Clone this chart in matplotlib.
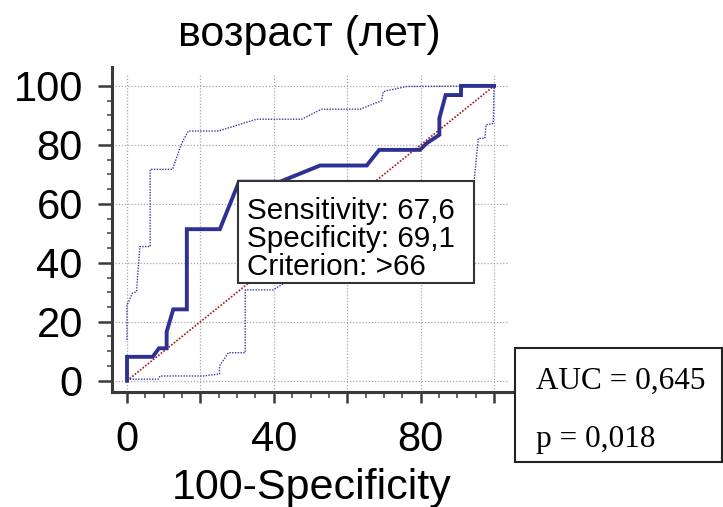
import matplotlib
matplotlib.use("Agg")
import matplotlib.pyplot as plt
from matplotlib.ticker import MultipleLocator, FixedLocator, FixedFormatter
from matplotlib.patches import Rectangle

# ---- data ----
roc_x = [0, 0, 7.0, 8.7, 10.8, 10.8, 12.6, 16.3, 16.3, 25.3, 30.5, 41.7, 52.6,
         65.3, 68.7, 79.8, 81.7, 85.1, 85.1, 86.8, 91.0, 91.0, 100]
roc_y = [0, 8.1, 8.1, 11.0, 11.0, 16.6, 24.2, 24.2, 51.4, 51.4, 67.5, 67.5, 73.0,
         73.0, 78.3, 78.3, 80.6, 83.4, 89.0, 96.9, 96.9, 100, 100]

upper_x = [0, 0, 1.5, 2.6, 3.5, 6.3, 6.3, 12.4, 14.9, 16.7, 24.9, 35.3, 47.6,
           53.0, 63.5, 69.4, 69.8, 76.2, 100]
upper_y = [13.8, 25.7, 29.7, 30.2, 45.5, 45.5, 71.7, 71.7, 80.6, 84.7, 84.7, 88.7,
           88.7, 92.1, 92.1, 95.0, 98.1, 99.8, 100]

lower_x = [0, 8.5, 9.0, 20.8, 25.2, 25.2, 27.6, 32.2, 32.2, 39.8, 43.5, 60, 80,
           94.0, 94.6, 95.7, 97.5, 97.8, 99.8, 100]
lower_y = [0.5, 0.5, 1.6, 1.6, 2.3, 5.0, 9.5, 9.5, 30.8, 30.8, 33.6, 45, 58,
           66, 68.1, 82.2, 82.2, 86.8, 87.3, 100]

diag_x = [0, 100]
diag_y = [0, 100]

x_ticks = [0, 20, 40, 60, 80, 100]
x_tick_labels = ["0", "", "40", "", "80", ""]
y_ticks = [0, 20, 40, 60, 80, 100]
y_tick_labels = ["0", "20", "40", "60", "80", "100"]

title = "возраст (лет)"
xlabel = "100-Specificity"
box_lines = ["Sensitivity: 67,6", "Specificity: 69,1", "Criterion: >66"]
auc_text = "AUC = 0,645"
p_text = "p = 0,018"

# ---- figure ----
W, H = 723, 507
fig = plt.figure(figsize=(W / 100, H / 100), dpi=100)
plt.rcParams["font.family"] = ["Liberation Sans", "DejaVu Sans"]

L, R, T, B = 112, 508, 75, 392
ax = fig.add_axes([L / W, 1 - B / H, (R - L) / W, (B - T) / H])
ax.set_xlim(-4.09, 103.8)
ax.set_ylim(-3.83, 103.7)

for s in ["top", "right"]:
    ax.spines[s].set_visible(False)
for s in ["left", "bottom"]:
    ax.spines[s].set_linewidth(2.2)
    ax.spines[s].set_color("#3a3a3a")
ax.spines["left"].set_bounds(-3.83, 106.4)
ax.spines["bottom"].set_bounds(-4.09, 105.9)

ax.xaxis.set_major_locator(FixedLocator(x_ticks))
ax.xaxis.set_major_formatter(FixedFormatter(x_tick_labels))
ax.yaxis.set_major_locator(FixedLocator(y_ticks))
ax.yaxis.set_major_formatter(FixedFormatter(y_tick_labels))
ax.xaxis.set_minor_locator(MultipleLocator(5))
ax.yaxis.set_minor_locator(MultipleLocator(5))

ax.tick_params(axis="x", which="major", length=8, width=1.8, color="#3a3a3a",
               labelsize=30, pad=12)
ax.tick_params(axis="x", which="minor", length=4.3, width=1.1, color="#3a3a3a")
ax.tick_params(axis="y", which="major", length=10, width=1.8, color="#3a3a3a",
               labelsize=30, pad=11)
ax.tick_params(axis="y", which="minor", length=3.6, width=1.1, color="#3a3a3a")

ax.grid(True, which="major", color="#a8a8a8", linestyle=(0, (1, 1.5)), linewidth=0.9)
ax.set_axisbelow(True)

ax.plot(diag_x, diag_y, color="#a01818", linestyle=(0, (1, 1)), linewidth=1.2, zorder=3)
ax.plot(upper_x, upper_y, color="#3a3aa8", linestyle=(0, (1, 1)), linewidth=1.0, zorder=3)
ax.plot(lower_x, lower_y, color="#3a3aa8", linestyle=(0, (1, 1)), linewidth=1.0, zorder=3)
ax.plot(roc_x, roc_y, color="#2e3192", linewidth=2.8, zorder=4, solid_joinstyle="miter")

# info box (figure pixel coordinates)
bx0, by0, bx1, by1 = 238, 181, 474, 283
fig.add_artist(Rectangle((bx0 / W, 1 - by1 / H), (bx1 - bx0) / W, (by1 - by0) / H,
                         transform=fig.transFigure, facecolor="white",
                         edgecolor="#333333", linewidth=1.5, zorder=10))
for i, line in enumerate(box_lines):
    fig.text(247 / W, 1 - (211 + 28 * i) / H, line, fontsize=21.3, color="black",
             ha="left", va="center", zorder=11)

# AUC box
fig.add_artist(Rectangle((515 / W, 1 - 462 / H), (722 - 515) / W, (462 - 348) / H,
                         transform=fig.transFigure, facecolor="white",
                         edgecolor="#222222", linewidth=1.5, zorder=10))
fig.text(536 / W, 1 - 381 / H, auc_text, fontsize=22.5, family="Liberation Serif",
         ha="left", va="center", zorder=11)
fig.text(536 / W, 1 - 440 / H, p_text, fontsize=22.5, family="Liberation Serif",
         ha="left", va="center", zorder=11)

fig.text(309 / W, 1 - 35 / H, title, fontsize=31, ha="center", va="center")
fig.text(312 / W, 1 - 488 / H, xlabel, fontsize=31, ha="center", va="center")

fig.savefig("out.png", dpi=100)
